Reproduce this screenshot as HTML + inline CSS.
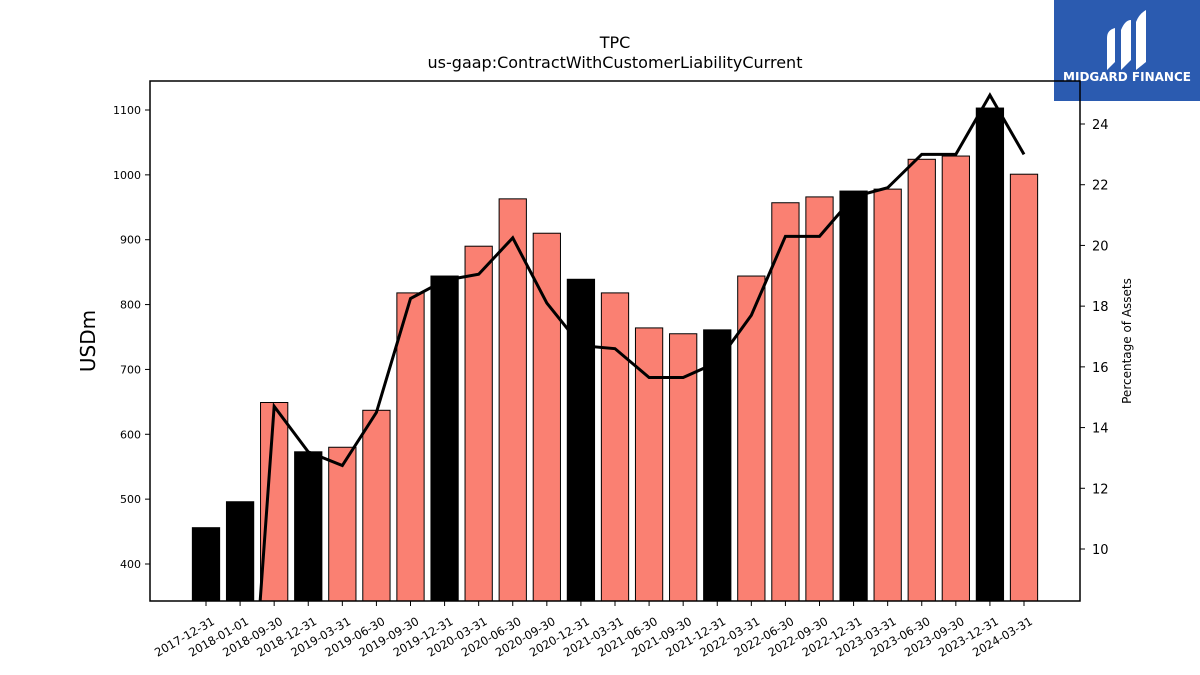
<!DOCTYPE html>
<html><head><meta charset="utf-8"><style>
html,body{margin:0;background:#fff;font-family:"Liberation Sans","DejaVu Sans",sans-serif;width:1200px;height:675px;overflow:hidden}
svg{display:block}
svg text{font-family:"DejaVu Sans","Liberation Sans",sans-serif}
</style></head><body>
<svg id="c" width="1200" height="675">
<rect x="1054" y="0" width="146" height="101" fill="#2b5bb0"/>
<g fill="#fff">
<path d="M1107 70 V38 q0-8 8-10 V62 z M1121 70 V30 q4-10 10-10 V60 z M1136 70 V22 q3-8 10-12 V62 z"/>
</g>
<text x="1127" y="81" fill="#fff" font-size="12" font-weight="bold" text-anchor="middle">MIDGARD FINANCE</text>
<text x="615" y="48" font-size="16" text-anchor="middle">TPC</text>
<text x="615" y="68" font-size="16" text-anchor="middle">us-gaap:ContractWithCustomerLiabilityCurrent</text>
<text transform="translate(95,341) rotate(-90)" font-size="20" text-anchor="middle">USDm</text>
<text transform="translate(1131,341) rotate(-90)" font-size="12" text-anchor="middle">Percentage of Assets</text>
<defs><clipPath id="pc"><rect x="150" y="81" width="930" height="520"/></clipPath></defs>
<g id="bars"></g><g id="line" clip-path="url(#pc)"></g><g id="axes"></g>
<rect x="150" y="81" width="930" height="520" fill="none" stroke="#000" stroke-width="1.5"/>
</svg>
<script>
const categories=["2017-12-31","2018-01-01","2018-09-30","2018-12-31","2019-03-31","2019-06-30","2019-09-30","2019-12-31","2020-03-31","2020-06-30","2020-09-30","2020-12-31","2021-03-31","2021-06-30","2021-09-30","2021-12-31","2022-03-31","2022-06-30","2022-09-30","2022-12-31","2023-03-31","2023-06-30","2023-09-30","2023-12-31","2024-03-31"];
const values=[456,496,649,573,580,637,818,844,890,963,910,839,818,764,755,761,844,957,966,975,978,1024,1029,1103,1001];
const annual=[1,1,0,1,0,0,0,1,0,0,0,1,0,0,0,1,0,0,0,1,0,0,0,1,0];
const pct=[10.7,-0.9,14.7,13.2,12.75,14.5,18.25,18.85,19.05,20.25,18.1,16.7,16.6,15.65,15.65,16.15,17.7,20.3,20.3,21.6,21.9,23.0,23.0,24.95,23.0];
const leftTicks=[400,500,600,700,800,900,1000,1100];
const rightTicks=[10,12,14,16,18,20,22,24];
const NS="http://www.w3.org/2000/svg";
const x0=206,dx=(1024-206)/(categories.length-1);
const X=i=>x0+i*dx;
const Y=v=>564-(v-400)*(454/700);
const Y2=p=>549-(p-10)*(425/14);
function mk(t,a,p){const e=document.createElementNS(NS,t);for(const k in a)e.setAttribute(k,a[k]);p.appendChild(e);return e;}
const bars=document.getElementById('bars'),line=document.getElementById('line'),axes=document.getElementById('axes');
const bw=dx*0.8;
values.forEach((v,i)=>{
 const y=Y(v);
 const r=mk('rect',{x:X(i)-bw/2,y:y,width:bw,height:601-y,fill:annual[i]?'#000':'#fa8072',stroke:'#000','stroke-width':1},bars);
 
 
});
const pl=mk('polyline',{points:pct.map((p,i)=>X(i)+','+Y2(p)).join(' '),fill:'none',stroke:'#000','stroke-width':3,'stroke-linejoin':'miter'},line);


categories.forEach((c,i)=>{
 mk('line',{x1:X(i),x2:X(i),y1:601,y2:606,stroke:'#000'},axes);
 const t=mk('text',{transform:`translate(${X(i)+5},${616}) rotate(-30)`,'font-size':11.5,'text-anchor':'end','dominant-baseline':'hanging'},axes);
 t.textContent=c;
 
 
});
leftTicks.forEach(v=>{
 mk('line',{x1:145,x2:150,y1:Y(v),y2:Y(v),stroke:'#000'},axes);
 const t=mk('text',{x:141,y:Y(v)+4,'font-size':11,'text-anchor':'end'},axes);
 t.textContent=v;
 
 
});
rightTicks.forEach(v=>{
 mk('line',{x1:1080,x2:1085,y1:Y2(v),y2:Y2(v),stroke:'#000'},axes);
 const t=mk('text',{x:1092,y:Y2(v)+5,'font-size':13},axes);
 t.textContent=v;
 
 
});
</script>
</body></html>
